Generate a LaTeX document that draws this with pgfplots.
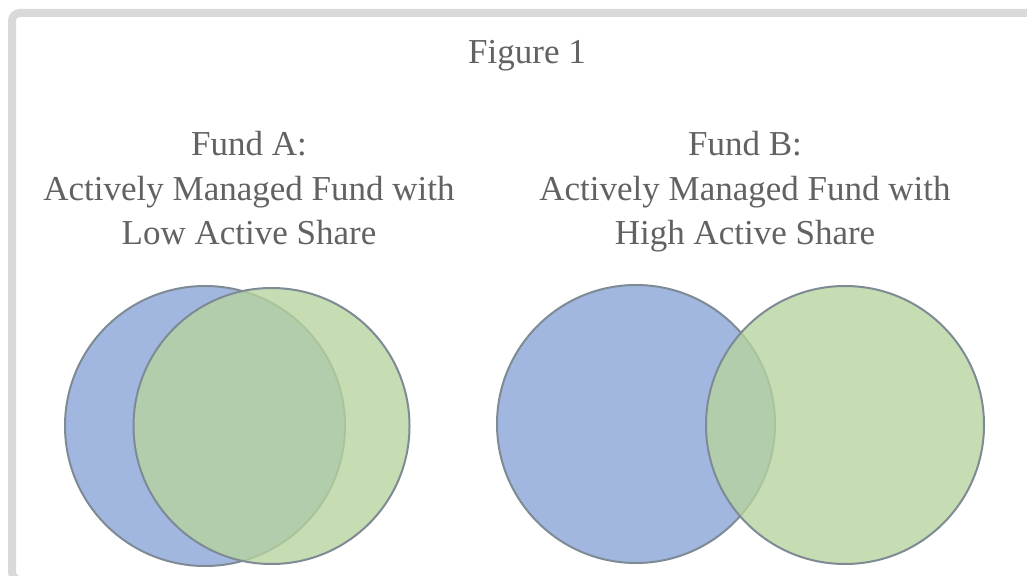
\documentclass[border=0pt]{standalone}
\usepackage{fontspec}
\setmainfont{Liberation Serif}
\usepackage{pgfplots}
\pgfplotsset{compat=1.18}
\definecolor{clrBlue}{RGB}{161,183,224}
\definecolor{clrGreen}{RGB}{183,212,158}
\definecolor{clrEdge}{RGB}{126,138,148}
\definecolor{clrText}{RGB}{98,98,98}
\definecolor{clrFrame}{RGB}{217,217,217}

\begin{document}
\begin{tikzpicture}
\begin{axis}[
  scale only axis,
  width=513.5pt, height=288pt,
  xmin=0, xmax=1027, ymin=0, ymax=576,
  y dir=reverse,
  hide axis,
  clip=false,
]
% page and frame
\fill[white] (rel axis cs:0,0) rectangle (rel axis cs:1,1);
\draw[clrFrame, line width=4pt, rounded corners=4pt] (axis cs:12,13) rectangle (axis cs:1060,580);

% Fund A: low active share, big overlap
\addplot[only marks, mark=*, mark size=70pt,
  mark options={fill=clrBlue, draw=clrEdge, line width=1pt}] coordinates {(205,426)};
\addplot[only marks, mark=*, mark size=69pt,
  mark options={fill=clrGreen, fill opacity=0.78, draw=clrEdge, line width=1pt}] coordinates {(271.5,426)};

% Fund B: high active share, small overlap
\addplot[only marks, mark=*, mark size=69.5pt,
  mark options={fill=clrBlue, draw=clrEdge, line width=1pt}] coordinates {(636,424)};
\addplot[only marks, mark=*, mark size=69.5pt,
  mark options={fill=clrGreen, fill opacity=0.78, draw=clrEdge, line width=1pt}] coordinates {(845,425)};

% titles
\node[clrText, anchor=base, inner sep=0pt, font=\fontsize{17.5}{22.25}\selectfont] at (axis cs:527,64) {Figure 1};
\node[clrText, align=center, anchor=north, inner sep=0pt, font=\fontsize{17.5}{22.25}\selectfont] at (axis cs:249,131)
  {Fund A:\\Actively Managed Fund with\\Low Active Share};
\node[clrText, align=center, anchor=north, inner sep=0pt, font=\fontsize{17.5}{22.25}\selectfont] at (axis cs:745,131)
  {Fund B:\\Actively Managed Fund with\\High Active Share};
\end{axis}
\pgfresetboundingbox
\useasboundingbox (current axis.south west) rectangle (current axis.north east);
\end{tikzpicture}
\end{document}
